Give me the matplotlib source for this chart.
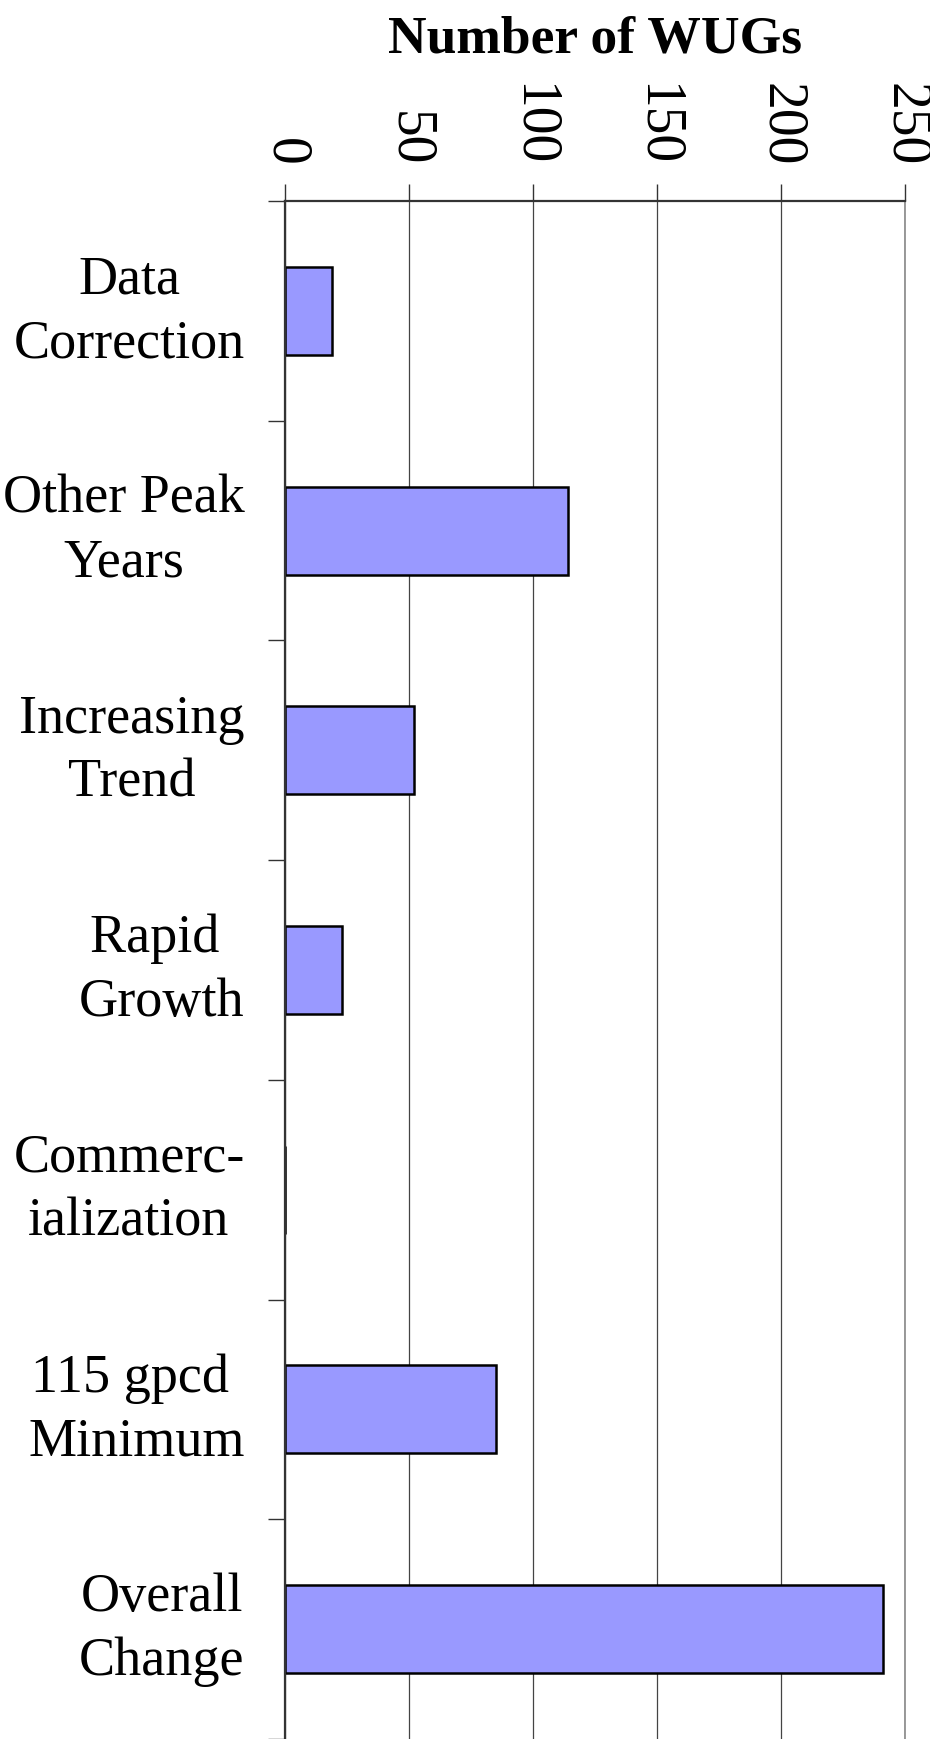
# Horizontal bar chart of WUG counts per adjustment category
import matplotlib.pyplot as plt
import numpy as np

plt.rcParams['font.family'] = ['Liberation Serif', 'DejaVu Serif']

categories = ['Data\nCorrection', 'Other Peak\nYears', 'Increasing\nTrend',
              'Rapid \nGrowth', 'Commerc-\nialization', '115 gpcd \nMinimum',
              'Overall\nChange']
counts = [19, 114, 52, 23, 0, 85, 241]
x_ticks = [0, 50, 100, 150, 200, 250]

fig = plt.figure(figsize=(9.3, 17.4), dpi=100)
ax = fig.add_axes([285 / 930, 0.0, 620 / 930, 1 - 202 / 1740])

pos = np.arange(len(categories))
ax.barh(pos, counts, height=0.4, color='#9999FF', edgecolor='black',
        linewidth=1.8, zorder=3)

ax.set_xlim(0, 250)
ax.set_ylim(len(categories) - 0.5, -0.5)

# x axis on top, rotated labels
ax.xaxis.tick_top()
ax.set_xticks(x_ticks)
ax.set_xticklabels([str(v) for v in x_ticks], rotation=-90, fontsize=40)
ax.tick_params(axis='x', length=12, width=1, pad=14, color='#333333')
ax.xaxis.set_label_position('top')
ax.set_xlabel('Number of WUGs', fontsize=38.5, fontweight='bold', labelpad=21.5)

# category boundaries as major ticks, names as minor ticks
ax.set_yticks(np.arange(len(categories) + 1) - 0.5)
ax.set_yticklabels([])
ax.set_yticks(pos, minor=True)
ax.set_yticklabels(categories, minor=True, fontsize=39, multialignment='center',
                   linespacing=1.35)
for lbl in ax.get_yticklabels(minor=True):
    lbl.set_verticalalignment('center')
ax.tick_params(axis='y', which='major', length=12, width=1, color='#333333')
ax.tick_params(axis='y', which='minor', length=0, pad=29)

ax.grid(axis='x', color='#444444', linewidth=0.9, zorder=0)
ax.set_axisbelow(True)

for s in ['left', 'top']:
    ax.spines[s].set_linewidth(1.6)
    ax.spines[s].set_color('#333333')
    ax.spines[s].set_zorder(4)
ax.spines['right'].set_color('#888888')
ax.spines['right'].set_linewidth(1.2)
ax.spines['bottom'].set_visible(False)

fig.savefig('out.png', dpi=100)
